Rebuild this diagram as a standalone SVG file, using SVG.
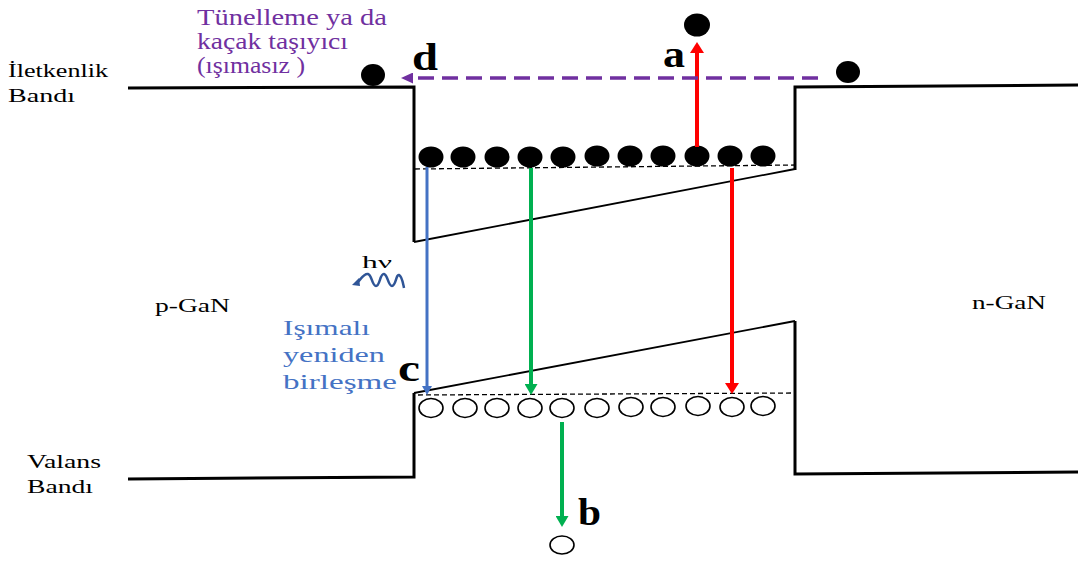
<svg xmlns="http://www.w3.org/2000/svg" width="1085" height="563" viewBox="0 0 1085 563">
<style>
text{font-family:"Liberation Serif","Times New Roman",serif}
.lbl{font-size:19px;fill:#000}
.pur{font-size:23px;fill:#7030A0}
.blu{font-size:22px;fill:#4472C4}
.big{font-size:37px;font-weight:bold;fill:#000}
.band{fill:none;stroke:#000;stroke-width:3;stroke-linejoin:miter}
.slant{fill:none;stroke:#000;stroke-width:1.8}
.qd{fill:none;stroke:#000;stroke-width:1.3;stroke-dasharray:5 3}
.e{fill:#000}
.h{fill:#fff;stroke:#000;stroke-width:1.6}
</style>
<defs>
<marker id="mRed" viewBox="0 0 10 10" refX="0" refY="5" markerWidth="11" markerHeight="14" markerUnits="userSpaceOnUse" orient="auto" preserveAspectRatio="none"><path d="M0,0 L10,5 L0,10 z" fill="#FF0000"/></marker>
<marker id="mGrn" viewBox="0 0 10 10" refX="0" refY="5" markerWidth="11" markerHeight="13" markerUnits="userSpaceOnUse" orient="auto" preserveAspectRatio="none"><path d="M0,0 L10,5 L0,10 z" fill="#00B050"/></marker>
<marker id="mBlu" viewBox="0 0 10 10" refX="0" refY="5" markerWidth="9" markerHeight="10" markerUnits="userSpaceOnUse" orient="auto" preserveAspectRatio="none"><path d="M0,0 L10,5 L0,10 z" fill="#4472C4"/></marker>
<marker id="mPur" viewBox="0 0 10 10" refX="0" refY="5" markerWidth="12" markerHeight="11" markerUnits="userSpaceOnUse" orient="auto" preserveAspectRatio="none"><path d="M0,0 L10,5 L0,10 z" fill="#7030A0"/></marker>
</defs>
<rect width="1085" height="563" fill="#fff"/>

<g id="conduction-band">
<path class="band" d="M128,88 L414,87 L414,242"/>
<path class="slant" d="M414,242 L795,169"/>
<path class="band" d="M795,170 L795,87 L1078,85"/>
<path class="qd" d="M415,169 L795,165"/>
</g>

<g id="valence-band">
<path class="band" d="M128,479 L414,477 L414,393"/>
<path class="slant" d="M414,393 L795,321"/>
<path class="band" d="M795,321 L795,474 L1078,472"/>
<path class="qd" d="M418,395 L795,393"/>
</g>

<g id="electrons">
<ellipse class="e" cx="431" cy="157" rx="12.5" ry="10.5"/>
<ellipse class="e" cx="463" cy="157" rx="12.5" ry="10.5"/>
<ellipse class="e" cx="497" cy="157" rx="12.5" ry="10.5"/>
<ellipse class="e" cx="530" cy="157" rx="12.5" ry="10.5"/>
<ellipse class="e" cx="563" cy="157" rx="12.5" ry="10.5"/>
<ellipse class="e" cx="597" cy="156" rx="12.5" ry="10.5"/>
<ellipse class="e" cx="630" cy="156" rx="12.5" ry="10.5"/>
<ellipse class="e" cx="663" cy="156" rx="12.5" ry="10.5"/>
<ellipse class="e" cx="697" cy="156" rx="12.5" ry="10.5"/>
<ellipse class="e" cx="730" cy="156" rx="12.5" ry="10.5"/>
<ellipse class="e" cx="763" cy="156" rx="12.5" ry="10.5"/>
</g>

<g id="holes">
<ellipse class="h" cx="431" cy="408" rx="12" ry="9.5"/>
<ellipse class="h" cx="465" cy="408" rx="12" ry="9.5"/>
<ellipse class="h" cx="497" cy="408" rx="12" ry="9.5"/>
<ellipse class="h" cx="530" cy="408" rx="12" ry="9.5"/>
<ellipse class="h" cx="562" cy="408" rx="12" ry="9.5"/>
<ellipse class="h" cx="597" cy="408" rx="12" ry="9.5"/>
<ellipse class="h" cx="631" cy="407" rx="12" ry="9.5"/>
<ellipse class="h" cx="663" cy="407" rx="12" ry="9.5"/>
<ellipse class="h" cx="698" cy="406" rx="12" ry="9.5"/>
<ellipse class="h" cx="732" cy="407" rx="12" ry="9.5"/>
<ellipse class="h" cx="763" cy="406" rx="12" ry="9.5"/>
</g>

<g id="escaped-carriers">
<ellipse class="e" cx="697" cy="25" rx="13" ry="11.5"/>
<ellipse class="e" cx="373" cy="75" rx="12" ry="11"/>
<ellipse class="e" cx="848" cy="72" rx="12" ry="11"/>
<ellipse class="h" cx="562" cy="545" rx="12" ry="9"/>
</g>

<g id="connectors">
<line x1="697" y1="147" x2="697" y2="53" stroke="#FF0000" stroke-width="4" marker-end="url(#mRed)"/>
<line x1="818" y1="78" x2="413" y2="78" stroke="#7030A0" stroke-width="3.5" stroke-dasharray="16 8" marker-end="url(#mPur)"/>
<line x1="427" y1="167" x2="427" y2="386" stroke="#4472C4" stroke-width="3" marker-end="url(#mBlu)"/>
<line x1="531" y1="168" x2="531" y2="384" stroke="#00B050" stroke-width="4" marker-end="url(#mGrn)"/>
<line x1="732" y1="168" x2="732" y2="383" stroke="#FF0000" stroke-width="4" marker-end="url(#mRed)"/>
<line x1="562" y1="422" x2="562" y2="516" stroke="#00B050" stroke-width="4" marker-end="url(#mGrn)"/>
</g>

<g id="photon">
<path d="M357,283 C361,279 364,273 368,274 C372,275 372,286 376,286 C380,286 380,273 384,274 C388,275 388,286 392,286 C396,286 396,274 399,275 C402,276 403,283 404,288" fill="none" stroke="#2F5597" stroke-width="2.5"/>
<path d="M352,285 L359,278 L360,286 z" fill="#2F5597"/>
<text x="362" y="268" textLength="30" lengthAdjust="spacingAndGlyphs" style="font-size:17px;fill:#000">hν</text>
</g>

<g id="labels">
<text class="pur" x="197" y="25" textLength="190" lengthAdjust="spacingAndGlyphs">Tünelleme  ya da</text>
<text class="pur" x="197" y="49" textLength="151" lengthAdjust="spacingAndGlyphs">kaçak taşıyıcı</text>
<text class="pur" x="197" y="73" textLength="108" lengthAdjust="spacingAndGlyphs">(ışımasız )</text>
<text class="lbl" x="8" y="77" textLength="100" lengthAdjust="spacingAndGlyphs">İletkenlik</text>
<text class="lbl" x="8" y="102" textLength="67" lengthAdjust="spacingAndGlyphs">Bandı</text>
<text class="lbl" x="155" y="312" textLength="75" lengthAdjust="spacingAndGlyphs">p-GaN</text>
<text class="lbl" x="972" y="309" textLength="74" lengthAdjust="spacingAndGlyphs">n-GaN</text>
<text class="lbl" x="27" y="468" textLength="74" lengthAdjust="spacingAndGlyphs">Valans</text>
<text class="lbl" x="27" y="493" textLength="66" lengthAdjust="spacingAndGlyphs">Bandı</text>
<text class="blu" x="283" y="335" textLength="87" lengthAdjust="spacingAndGlyphs">Işımalı</text>
<text class="blu" x="283" y="362" textLength="102" lengthAdjust="spacingAndGlyphs">yeniden</text>
<text class="blu" x="283" y="389" textLength="114" lengthAdjust="spacingAndGlyphs">birleşme</text>
<text class="big" x="663" y="67" textLength="22" lengthAdjust="spacingAndGlyphs">a</text>
<text class="big" x="578" y="525" textLength="23" lengthAdjust="spacingAndGlyphs">b</text>
<text class="big" x="398" y="381" textLength="22" lengthAdjust="spacingAndGlyphs">c</text>
<text class="big" x="412" y="70" textLength="26" lengthAdjust="spacingAndGlyphs">d</text>
</g>
</svg>
